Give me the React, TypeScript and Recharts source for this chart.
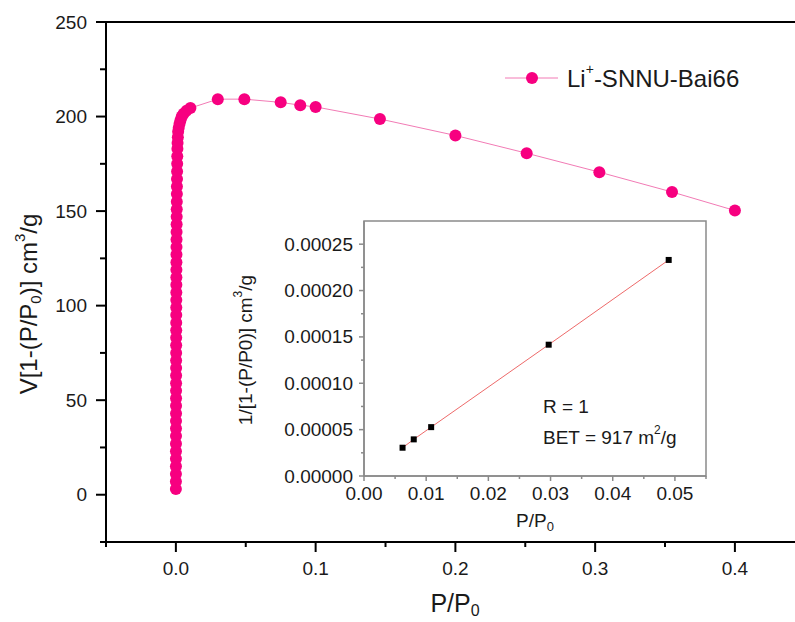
import React from 'react';
import { ScatterChart, Scatter, XAxis, YAxis, ReferenceLine, ReferenceArea, Legend, Label } from 'recharts';

const FONT = '"Liberation Sans", Arial, sans-serif';
const INK = '#1a1a1a';
const PINK = '#f70080';

// main plot: P/P0 against V[1-(P/P0)], steep rise at very low pressure then the BET roll-off
const mainP = [
    0.00001, 0.00002, 0.00003, 0.00004, 0.00005, 0.00006, 0.00007, 0.00008, 0.00009, 0.0001,
    0.00011, 0.00012, 0.00013, 0.00014, 0.00015, 0.00016, 0.00017, 0.00018, 0.0002, 0.00021,
    0.00022, 0.00024, 0.00025, 0.00027, 0.00028, 0.0003, 0.00032, 0.00034, 0.00036, 0.00038,
    0.0004, 0.00042, 0.00045, 0.00048, 0.00051, 0.00054, 0.00058, 0.00062, 0.00066, 0.0007,
    0.00075, 0.0008, 0.00086, 0.00093, 0.001, 0.0011, 0.0012, 0.0014, 0.0016, 0.002,
    0.0026, 0.0033, 0.0042, 0.0055, 0.0075, 0.0104,
    0.03, 0.049, 0.075, 0.089, 0.1, 0.146, 0.2, 0.251, 0.303, 0.355, 0.4,
];
const mainV = [
    3, 7, 11, 15, 19, 23, 27, 31, 35, 39,
    43, 47, 51, 55, 59, 63, 67, 71, 75, 79,
    83, 87, 91, 95, 99, 103, 107, 111, 115, 119,
    123, 127, 131, 135, 139, 143, 147, 151, 155, 159,
    163, 167, 171, 175, 179, 183, 186, 189, 192, 194,
    196, 198, 200, 201.5, 203, 204.5,
    209.2, 209.2, 207.5, 206, 205.1, 198.7, 190, 180.6, 170.6, 160.1, 150.3,
];

// inset: BET linear plot
const betP = [0.0062, 0.008, 0.0108, 0.0297, 0.049];
const betY = [0.0000305, 0.0000395, 0.0000527, 0.0001416, 0.000233];

const mainXMajor = [0, 0.1, 0.2, 0.3, 0.4];
const mainXMinor = [-0.05, 0.05, 0.15, 0.25, 0.35];
const mainYMajor = [0, 50, 100, 150, 200, 250];
const mainYMinor = [-25, 25, 75, 125, 175, 225];
const insetXMajor = [0, 0.01, 0.02, 0.03, 0.04, 0.05];
const insetXMinor = [0.005, 0.015, 0.025, 0.035, 0.045, 0.055];
const insetYMajor = [0, 0.00005, 0.0001, 0.00015, 0.0002, 0.00025];
const insetYMinor = [0.000025, 0.000075, 0.000125, 0.000175, 0.000225];

const mainData = mainP.map((p, i) => ({ p, v: mainV[i] }));
const betData = betP.map((p, i) => ({ p, y: betY[i] }));

const isIn = (list: number[], v: number) => list.some(m => Math.abs(m - v) < 1e-9);

const yTick = (majors: number[], big: number, small: number, gap: number, digits: number, stroke: string, sw: number, fs: number) =>
    (props: any) => {
        const { x, y, payload } = props;
        const major = isIn(majors, payload.value);
        const len = major ? big : small;
        return (
            <g>
                <line x1={x - len} x2={x} y1={y} y2={y} stroke={stroke} strokeWidth={sw} />
                {major && (
                    <text x={x - big - gap} y={y} textAnchor="end" dominantBaseline="central" fontSize={fs} fontFamily={FONT} fill={INK}>
                        {payload.value.toFixed(digits)}
                    </text>
                )}
            </g>
        );
    };

const xTick = (majors: number[], big: number, small: number, gap: number, digits: number, stroke: string, sw: number, fs: number) =>
    (props: any) => {
        const { x, y, payload } = props;
        const major = isIn(majors, payload.value);
        const len = major ? big : small;
        return (
            <g>
                <line x1={x} x2={x} y1={y} y2={y + len} stroke={stroke} strokeWidth={sw} />
                {major && (
                    <text x={x} y={y + gap} textAnchor="middle" dominantBaseline="central" fontSize={fs} fontFamily={FONT} fill={INK}>
                        {payload.value.toFixed(digits)}
                    </text>
                )}
            </g>
        );
    };

const Dot = (props: any) => <circle cx={props.cx} cy={props.cy} r={6} fill={PINK} />;
const Square = (props: any) => <rect x={props.cx - 3} y={props.cy - 3} width={6} height={6} fill="#000" />;

const LegendBox = () => (
    <svg width={795} height={110} style={{ position: 'absolute', left: 0, top: 0, overflow: 'visible' }}>
        <line x1={505} x2={558} y1={78} y2={78} stroke="#f27bb5" strokeWidth={1} />
        <circle cx={532} cy={78} r={6} fill={PINK} />
        <text x={567} y={78} dominantBaseline="central" fontSize={24} fontFamily={FONT} fill={INK}>
            Li<tspan dy={-9} fontSize={14}>+</tspan><tspan dy={9}>-SNNU-Bai66</tspan>
        </text>
    </svg>
);

const App = () => {
    return (
        <div style={{ position: 'absolute', left: 0, top: 0, width: 795, height: 622, background: '#fff', fontFamily: FONT }}>
            <ScatterChart width={795} height={622} margin={{ top: 22, right: 0, bottom: 0, left: 0 }}>
                <XAxis
                    type="number" dataKey="p" domain={[-0.05, 0.443]} allowDataOverflow
                    ticks={[...mainXMinor, ...mainXMajor].sort((a, b) => a - b)} interval={0}
                    height={80} tickSize={0} tickMargin={0} tickLine={false}
                    axisLine={{ stroke: '#000', strokeWidth: 2 }}
                    tick={xTick(mainXMajor, 10, 5, 26, 1, '#000', 2, 19)}
                >
                    <Label content={() => (
                        <text x={455} y={603} textAnchor="middle" dominantBaseline="central" fontSize={25} fontFamily={FONT} fill={INK}>
                            P/P<tspan dy={7} fontSize={16}>0</tspan>
                        </text>
                    )} />
                </XAxis>
                <YAxis
                    type="number" dataKey="v" domain={[-25, 250]} allowDataOverflow
                    ticks={[...mainYMinor, ...mainYMajor].sort((a, b) => a - b)} interval={0}
                    width={106} tickSize={0} tickMargin={0} tickLine={false}
                    axisLine={{ stroke: '#000', strokeWidth: 2 }}
                    tick={yTick(mainYMajor, 10, 6, 9, 0, '#000', 2, 19)}
                >
                    <Label content={() => (
                        <text transform="translate(28,304) rotate(-90)" textAnchor="middle" dominantBaseline="central" fontSize={24} fontFamily={FONT} fill={INK}>
                            V[1-(P/P<tspan dy={7} fontSize={15}>0</tspan><tspan dy={-7}>)] cm</tspan><tspan dy={-9} fontSize={15}>3</tspan><tspan dy={9}>/g</tspan>
                        </text>
                    )} />
                </YAxis>
                <ReferenceLine y={250} stroke="#000" strokeWidth={2} />
                <Legend content={() => <LegendBox />} wrapperStyle={{ position: 'absolute', left: 0, top: 0, width: 0, height: 0, overflow: 'visible' }} />
                <Scatter data={mainData} shape={Dot} line={{ stroke: '#f27bb5', strokeWidth: 1 }} isAnimationActive={false} />
            </ScatterChart>

            <div style={{ position: 'absolute', left: 220, top: 200 }}>
                <ScatterChart width={496} height={336} margin={{ top: 21, right: 10, bottom: 0, left: 0 }}>
                    <ReferenceArea x1={0} x2={0.055} y1={0} y2={0.000275} fill="#fff" fillOpacity={1} stroke="#8a8a8a" strokeWidth={1.5} />
                    <XAxis
                        type="number" dataKey="p" domain={[0, 0.055]} allowDataOverflow
                        ticks={[...insetXMinor, ...insetXMajor].sort((a, b) => a - b)} interval={0}
                        height={60} tickSize={0} tickMargin={0} tickLine={false}
                        axisLine={{ stroke: '#8a8a8a', strokeWidth: 1.5 }}
                        tick={xTick(insetXMajor, 5, 3, 17, 2, '#8a8a8a', 1.5, 19)}
                    >
                        <Label content={() => (
                            <text x={315} y={320} textAnchor="middle" dominantBaseline="central" fontSize={19} fontFamily={FONT} fill={INK}>
                                P/P<tspan dy={6} fontSize={13}>0</tspan>
                            </text>
                        )} />
                    </XAxis>
                    <YAxis
                        type="number" dataKey="y" domain={[0, 0.000275]} allowDataOverflow
                        ticks={[...insetYMinor, ...insetYMajor].sort((a, b) => a - b)} interval={0}
                        width={144} tickSize={0} tickMargin={0} tickLine={false}
                        axisLine={{ stroke: '#8a8a8a', strokeWidth: 1.5 }}
                        tick={yTick(insetYMajor, 5, 3, 6, 5, '#8a8a8a', 1.5, 19)}
                    >
                        <Label content={() => (
                            <text transform="translate(25,150) rotate(-90)" textAnchor="middle" dominantBaseline="central" fontSize={19} fontFamily={FONT} fill={INK}>
                                1/[1-(P/P0)] cm<tspan dy={-7} fontSize={12}>3</tspan><tspan dy={7}>/g</tspan>
                            </text>
                        )} />
                    </YAxis>
                    <Scatter data={betData} shape={Square} line={{ stroke: '#ee6a6a', strokeWidth: 1 }} isAnimationActive={false} />
                    <ReferenceLine y={0} stroke="none" label={() => (
                        <g>
                            <text x={323} y={206} dominantBaseline="central" fontSize={19} fontFamily={FONT} fill={INK}>R = 1</text>
                            <text x={323} y={237} dominantBaseline="central" fontSize={19} fontFamily={FONT} fill={INK}>
                                BET = 917 m<tspan dy={-7} fontSize={12}>2</tspan><tspan dy={7}>/g</tspan>
                            </text>
                        </g>
                    )} />
                </ScatterChart>
            </div>
        </div>
    );
};

export default App;
